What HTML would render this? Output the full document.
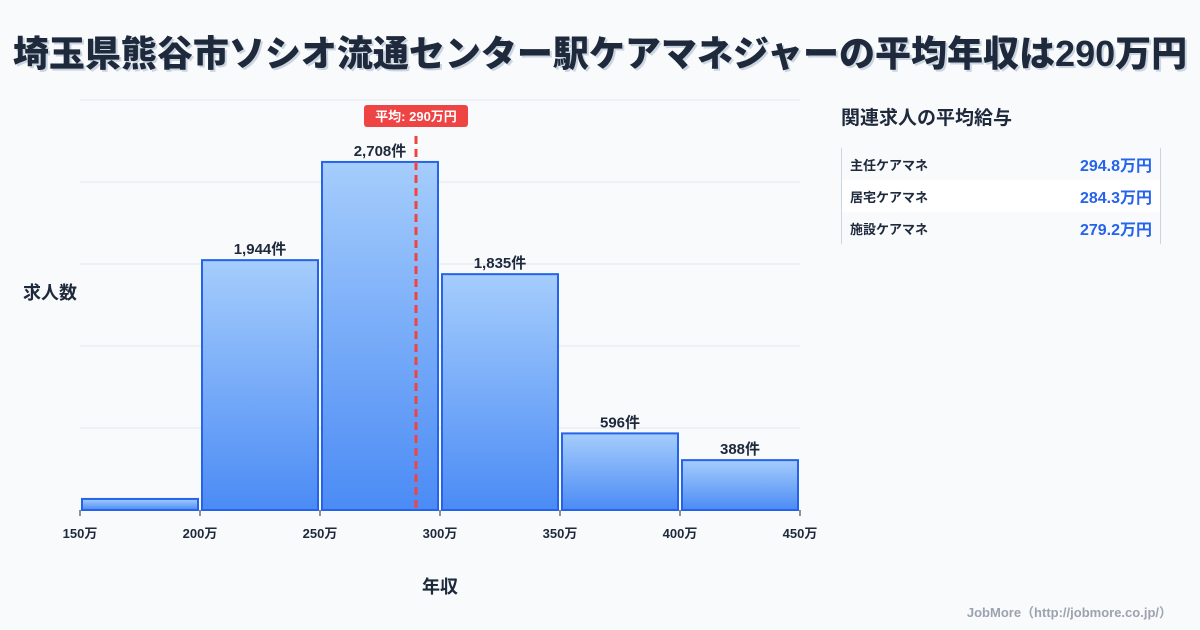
<!DOCTYPE html>
<html><head><meta charset="utf-8">
<style>
body{margin:0;width:1200px;height:630px;background:#f8fafc;font-family:"Liberation Sans","Noto Sans CJK JP",sans-serif;overflow:hidden;position:relative;color:#1e293b}
.title{position:absolute;left:0;top:29px;width:1200px;text-align:center;font-size:36px;font-weight:900;color:#1e293b;text-shadow:2px 2px 0 #cbd5e1;line-height:50px;white-space:nowrap}
.side-title{position:absolute;left:841px;top:103px;font-size:19px;font-weight:700}
.tbl{position:absolute;left:841px;top:148px;width:318px;border-left:1px solid #cbd5e1;border-right:1px solid #cbd5e1}
.row{height:32px;display:flex;justify-content:space-between;align-items:center;padding:0 8px}
.row .n{font-size:13px;font-weight:700}
.row .v{font-size:16px;font-weight:700;color:#2563eb}
.row.w{background:#fff}
.foot{position:absolute;right:28px;top:602px;font-size:13px;font-weight:700;color:#9ca3af}
</style></head><body>
<div class="title">埼玉県熊谷市ソシオ流通センター駅ケアマネジャーの平均年収は290万円</div>
<svg id="chart" width="830" height="630" style="position:absolute;left:0;top:0"></svg>
<div class="side-title">関連求人の平均給与</div>
<div class="tbl">
<div class="row"><span class="n">主任ケアマネ</span><span class="v">294.8万円</span></div>
<div class="row w"><span class="n">居宅ケアマネ</span><span class="v">284.3万円</span></div>
<div class="row"><span class="n">施設ケアマネ</span><span class="v">279.2万円</span></div>
</div>
<div class="foot">JobMore（http://jobmore.co.jp/）</div>
<script>
const binStarts=[150,200,250,300,350,400];
const binWidth=50;
const counts=[86,1944,2708,1835,596,388];
const labels=["","1,944件","2,708件","1,835件","596件","388件"];
const xTicks=[150,200,250,300,350,400,450];
const meanValue=290;
const meanLabel="平均: 290万円";
const xMin=150,xMax=450,yMax=3190;
const L=80,R=800,T=100,B=510;
const xs=v=>L+(v-xMin)/(xMax-xMin)*(R-L);
const ys=v=>B-v/yMax*(B-T);
const svg=document.getElementById('chart');
const NS='http://www.w3.org/2000/svg';
function mk(t,a){const e=document.createElementNS(NS,t);for(const k in a)e.setAttribute(k,a[k]);svg.appendChild(e);return e;}
const defs=mk('defs',{});
defs.innerHTML='<linearGradient id="g" x1="0" y1="0" x2="0" y2="1"><stop offset="0" stop-color="#a5cdfc"/><stop offset="1" stop-color="#4b8bf5"/></linearGradient>';
for(let i=0;i<=5;i++){const y=T+i*(B-T)/5;
const g=mk('line',{x1:L,x2:R,y1:y,y2:y,stroke:'#e2e8f0','stroke-width':1});

}
binStarts.forEach((s,i)=>{
const x0=xs(s)+2,x1=xs(s+binWidth)-2,y=ys(counts[i]);
const r=mk('rect',{x:x0,y:y,width:x1-x0,height:B-y,fill:'url(#g)',stroke:'#2563eb','stroke-width':2});


if(labels[i]){const t=mk('text',{x:(x0+x1)/2,y:y-6,'text-anchor':'middle','font-size':15,'font-weight':700,fill:'#1e293b'});t.textContent=labels[i];

}
});
xTicks.forEach(v=>{const x=xs(v);
const l=mk('line',{x1:x,x2:x,y1:B,y2:B+6,stroke:'#1e293b','stroke-width':1});


const t=mk('text',{x:x,y:538,'text-anchor':'middle','font-size':13,'font-weight':700,fill:'#1e293b'});t.textContent=v+'万';

});
const mx=xs(meanValue);
const ml=mk('line',{x1:mx,x2:mx,y1:136,y2:B,stroke:'#ef4444','stroke-width':3,'stroke-dasharray':'8,5'});


const mb=mk('rect',{x:mx-52,y:105,width:104,height:22,rx:3,fill:'#ef4444'});


const mt=mk('text',{x:mx,y:121,'text-anchor':'middle','font-size':13,'font-weight':700,fill:'#fff'});mt.textContent=meanLabel;


const yt=mk('text',{x:50,y:299,'text-anchor':'middle','font-size':18,'font-weight':700,fill:'#1e293b'});yt.textContent='求人数';


const xt=mk('text',{x:440,y:593,'text-anchor':'middle','font-size':18,'font-weight':700,fill:'#1e293b'});xt.textContent='年収';


</script>
</body></html>
